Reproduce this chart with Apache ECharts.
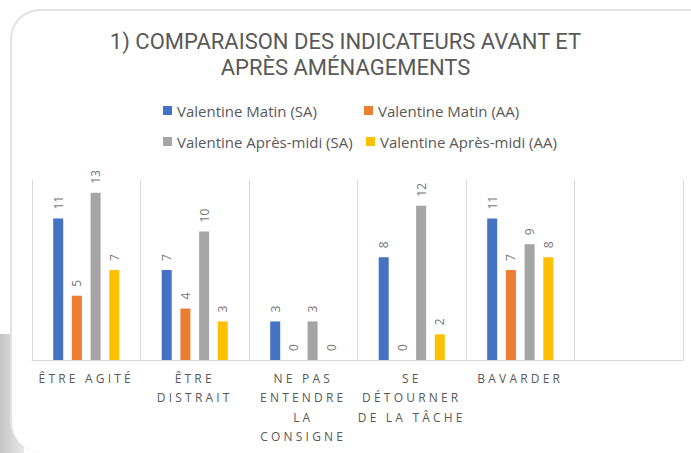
<!DOCTYPE html>
<html>
<head>
<meta charset="utf-8">
<script src="https://cdn.jsdelivr.net/npm/echarts@6/dist/echarts.min.js"></script>
<style>
  body { margin: 0; background: #fff; }
  #shade {
    position: absolute; left: 0; top: 334px; width: 24px; height: 119px;
    background: linear-gradient(to right, #c4c4c4, #e8e8e8);
  }
  #card {
    position: absolute; left: 10px; top: 9px; width: 720px; height: 441px;
    background: #fff; border-radius: 30px;
    border-top: 2px solid #e2e2e2; border-left: 2px solid #e2e2e2;
  }
  #container { position: absolute; left: 0; top: 0; width: 691px; height: 453px; }
</style>
</head>
<body>
<div id="shade"></div>
<div id="card"></div>
<div id="container"></div>
<script>
// catégories (la dernière est vide, comme dans le graphique d'origine)
var categories = ["ÊTRE AGITÉ", "ÊTRE\nDISTRAIT", "NE PAS\nENTENDRE\nLA\nCONSIGNE", "SE\nDÉTOURNER\nDE LA TÂCHE", "BAVARDER", ""];
var seriesNames = ["Valentine Matin (SA)", "Valentine Matin (AA)", "Valentine Après-midi (SA)", "Valentine Après-midi (AA)"];
var matinSA = [11, 7, 3, 8, 11, null];
var matinAA = [5, 4, 0, 0, 7, null];
var apresMidiSA = [13, 10, 3, 12, 9, null];
var apresMidiAA = [7, 3, 0, 2, 8, null];
var colors = ["#4472C4", "#ED7D31", "#A5A5A5", "#FFC000"];

var txt = "#595959";

function makeBar(name, data, color) {
  return {
    name: name,
    type: "bar",
    data: data,
    barWidth: 10,
    barGap: "87%",
    itemStyle: { color: color },
    label: {
      show: true,
      position: "top",
      rotate: 90,
      align: "left",
      verticalAlign: "middle",
      distance: 9,
      color: "#767676",
      fontSize: 12,
      fontFamily: "Open Sans"
    }
  };
}

// une légende par entrée pour garder les deux colonnes alignées
function makeLegend(left, top, name) {
  return {
    top: top,
    left: left,
    padding: 0,
    icon: "rect",
    itemWidth: 9,
    itemHeight: 9,
    data: [name],
    textStyle: { color: txt, fontSize: 15, fontFamily: "Open Sans" }
  };
}

var dom = document.getElementById("container");
var myChart = echarts.init(dom, null, { renderer: "svg" });
var option = {
  animation: false,
  color: colors,
  title: {
    text: "1) COMPARAISON DES INDICATEURS AVANT ET\nAPRÈS AMÉNAGEMENTS",
    left: "center",
    top: 23,
    textStyle: { color: txt, fontSize: 22, fontWeight: "normal", fontFamily: "Roboto", lineHeight: 26 }
  },
  legend: [
    makeLegend(163, 103, seriesNames[0]),
    makeLegend(364, 103, seriesNames[1]),
    makeLegend(163, 134, seriesNames[2]),
    makeLegend(366, 134, seriesNames[3])
  ],
  grid: { left: 32, right: 8, top: 180, bottom: 93, containLabel: false },
  xAxis: {
    type: "category",
    data: categories,
    axisLine: { lineStyle: { color: "#d9d9d9", width: 1 } },
    axisTick: { show: false },
    splitLine: { show: true, lineStyle: { color: "#d9d9d9", width: 1 } },
    axisLabel: {
      interval: 0,
      margin: 9,
      color: txt,
      fontSize: 12,
      lineHeight: 19.3,
      fontFamily: "Open Sans"
    }
  },
  yAxis: { type: "value", min: 0, max: 14, show: false, splitLine: { show: false } },
  series: [
    makeBar(seriesNames[0], matinSA, colors[0]),
    makeBar(seriesNames[1], matinAA, colors[1]),
    makeBar(seriesNames[2], apresMidiSA, colors[2]),
    makeBar(seriesNames[3], apresMidiAA, colors[3])
  ]
};
myChart.setOption(option, true);

// espacement des lettres des libellés de catégories (comme dans Excel)
var catLines = [];
categories.forEach(function (c) { c.split("\n").forEach(function (l) { if (l) catLines.push(l); }); });
dom.querySelectorAll("text").forEach(function (t) {
  if (catLines.indexOf(t.textContent) >= 0) t.setAttribute("letter-spacing", "3.2px");
});
</script>
</body>
</html>
